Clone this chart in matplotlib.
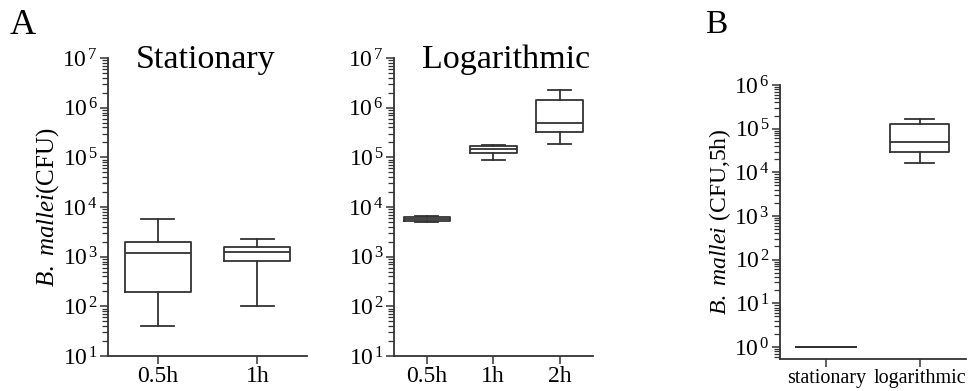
import math
import matplotlib
matplotlib.use('Agg')
import matplotlib.pyplot as plt
from matplotlib.ticker import FixedLocator, FuncFormatter, NullFormatter

plt.rcParams['font.family'] = 'Liberation Serif'
plt.rcParams['mathtext.fontset'] = 'custom'
plt.rcParams['mathtext.rm'] = 'Liberation Serif'
plt.rcParams['mathtext.it'] = 'Liberation Serif:italic'

# box statistics: (whislo, q1, med, q3, whishi)
stat_labels = ['0.5h', '1h']
stat_boxes = [(40, 195, 1170, 1950, 5750),
              (100, 830, 1230, 1590, 2250)]

log_labels = ['0.5h', '1h', '2h']
log_boxes = [(5000, 5300, 5700, 6200, 6500),
             (87000, 120000, 148000, 170000, 178000),
             (186000, 330000, 500000, 1400000, 2280000)]

b_labels = ['stationary', 'logarithmic']
b_boxes = [(1, 1, 1, 1, 1),
           (16600, 29500, 50000, 126000, 170000)]

col = '#333333'
lw = 1.3


def to_stats(boxes):
    out = []
    for lo, q1, med, q3, hi in boxes:
        out.append(dict(whislo=lo, q1=q1, med=med, q3=q3, whishi=hi, fliers=[]))
    return out


def draw(ax, boxes, labels, width, ylo, yhi):
    props = dict(color=col, linewidth=lw)
    ax.bxp(to_stats(boxes), widths=width, capwidths=width / 2, showfliers=False,
           boxprops=props, medianprops=props, whiskerprops=props, capprops=props)
    ax.set_yscale('log')
    ax.set_ylim(ylo, yhi)
    ax.set_xlim(0.5, len(labels) + 0.5)
    ax.set_xticks(range(1, len(labels) + 1))
    ax.set_xticklabels(labels, fontsize=17)
    # only ticks inside the visible range
    e0, e1 = math.ceil(math.log10(ylo)), round(math.log10(yhi))
    majors = [10.0 ** e for e in range(e0, e1 + 1)]
    minors = [m * 10.0 ** e for e in range(e0 - 1, e1) for m in range(2, 10)
              if ylo <= m * 10.0 ** e <= yhi]
    ax.yaxis.set_major_locator(FixedLocator(majors))
    ax.yaxis.set_minor_locator(FixedLocator(minors))
    ax.yaxis.set_minor_formatter(NullFormatter())
    ax.yaxis.set_major_formatter(FuncFormatter(lambda v, p: r'$10^{\,%d}$' % round(math.log10(v))))
    for s in ['top', 'right']:
        ax.spines[s].set_visible(False)
    for s in ['left', 'bottom']:
        ax.spines[s].set_color(col)
        ax.spines[s].set_linewidth(lw)
    ax.tick_params(axis='y', which='major', length=6, width=1.1, color=col, labelsize=17, pad=1)
    ax.tick_params(axis='y', which='minor', length=4, width=0.9, color=col)
    ax.tick_params(axis='x', length=6, width=1.1, color=col, pad=1)


fig = plt.figure(figsize=(9.72, 3.91), dpi=100)

ax1 = fig.add_axes([0.111, 0.0895, 0.205, 0.762])
draw(ax1, stat_boxes, stat_labels, 0.66, 10, 1e7)
ax1.set_ylabel(r'$\mathit{B.\ mallei}$(CFU)', fontsize=18, labelpad=1)
ax1.text(0.49, 0.966, 'Stationary', transform=ax1.transAxes, fontsize=24.5,
         ha='center', va='baseline')

ax2 = fig.add_axes([0.405, 0.0895, 0.205, 0.762])
draw(ax2, log_boxes, log_labels, 0.7, 10, 1e7)
ax2.text(0.566, 0.966, 'Logarithmic', transform=ax2.transAxes, fontsize=24.5,
         ha='center', va='baseline')

ax3 = fig.add_axes([0.802, 0.081, 0.192, 0.7015])
draw(ax3, b_boxes, b_labels, 0.64, 0.52, 1e6)
ax3.set_ylabel(r'$\mathit{B.\ mallei}$ (CFU,5h)', fontsize=17, labelpad=1)
ax3.set_xticklabels(b_labels, fontsize=14.5)

fig.text(0.010, 0.913, 'A', fontsize=26, va='baseline')
fig.text(0.725, 0.916, 'B', fontsize=24, va='baseline')

fig.savefig('out.png', dpi=100)
